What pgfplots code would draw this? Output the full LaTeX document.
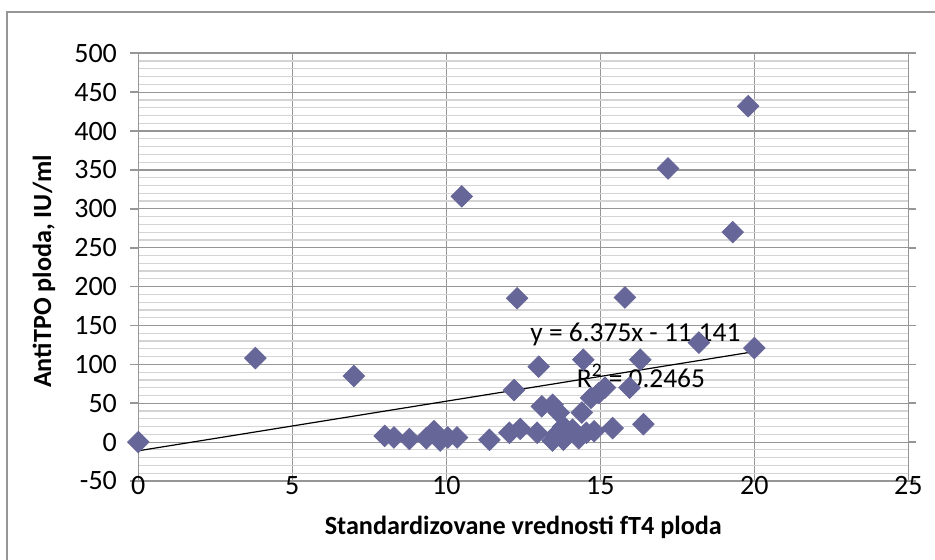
\documentclass[border=0pt]{standalone}
\usepackage{pgfplots}
\pgfplotsset{compat=1.18}
\usepackage{fontspec}
\setmainfont{Carlito}
\definecolor{mk}{RGB}{102,102,153}
\definecolor{majg}{RGB}{150,150,150}
\definecolor{ming}{RGB}{212,212,212}
\pgfplotstableread{
x y
0 0
3.8 108
7.0 85
8.0 8
8.3 6
8.8 4
9.35 5
9.6 14
9.8 2
10.05 6
10.35 6
10.5 316
11.4 3
12.05 12
12.4 17
12.2 67
12.3 185
13.0 97
12.95 12
13.1 46
13.45 48
13.65 38
13.45 2
13.55 9
13.8 3
13.8 20
14.1 16
14.3 5
14.4 38
14.45 106
14.55 12
14.7 57
14.8 14
14.95 63
15.15 70
15.4 18
15.8 186
15.95 70
16.3 106
16.4 23
17.2 352
18.2 128
19.3 270
19.8 432
20.0 121
}\pts
\begin{document}
\begin{tikzpicture}[x=1pt,y=1pt]
\path[use as bounding box] (0,0) rectangle (467.5,280);
\draw[majg, line width=0.8pt] (3.5,-5) -- (3.5,274) -- (470,274);
\begin{axis}[
  at={(69.15pt,39.5pt)}, anchor=south west,
  scale only axis, width=385pt, height=213.85pt,
  xmin=0, xmax=25, ymin=-50, ymax=500,
  xtick={0,5,...,25}, ytick={-50,0,...,500},
  minor ytick={-40,-30,...,490},
  grid=both,
  major grid style={majg, line width=0.6pt},
  minor grid style={ming, line width=0.6pt},
  axis line style={majg, line width=0.8pt},
  tick align=outside,
  major tick length=4pt, minor tick length=0pt,
  xtick style={draw=none},
  ytick style={majg, line width=0.8pt},
  ticklabel style={font=\fontsize{14}{16}\selectfont},
  /pgf/number format/assume math mode=true,
  xticklabel style={anchor=center, yshift=1.5pt},
  yticklabel style={anchor=east, inner sep=0pt, xshift=-6.5pt},
  xlabel={Standardizovane vrednosti fT4 ploda},
  ylabel={AntiTPO ploda, IU/ml},
  xlabel style={font=\fontsize{13.1}{15}\selectfont\bfseries, at={(axis description cs:0.5,0)}, anchor=center, yshift=-23pt},
  ylabel style={font=\fontsize{13.1}{15}\selectfont\bfseries, at={(axis description cs:0,0.49)}, anchor=center, yshift=47.15pt},
  clip=false,
]
\addplot[only marks, mark=square*, mark size=3.8pt, mark options={rotate=45, fill=mk, draw=mk}] table[x=x,y=y] {\pts};
\addplot[black, line width=0.6pt, no marks] coordinates {(0,-11.141) (20,116.359)};
\node[anchor=west, inner sep=0pt, font=\fontsize{13.7}{15}\selectfont] at (axis cs:12.72,139) {y = 6.375x - 11.141};
\node[anchor=west, inner sep=0pt, font=\fontsize{13.7}{15}\selectfont] at (axis cs:14.23,85) {R\textsuperscript{2} = 0.2465};
\end{axis}
\end{tikzpicture}
\end{document}
